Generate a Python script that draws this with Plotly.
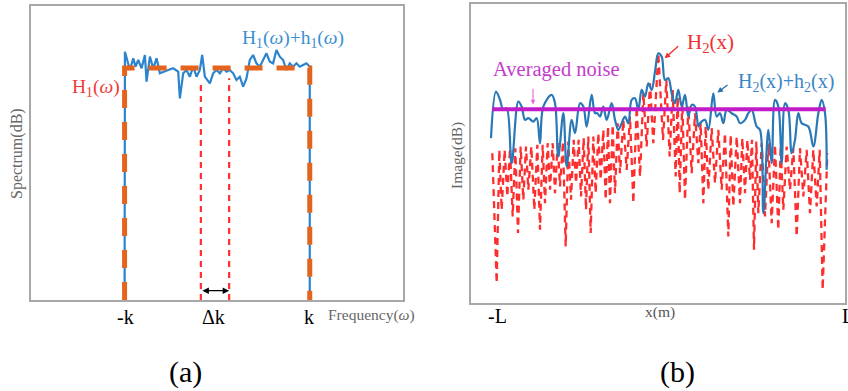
import plotly.graph_objects as go

W, H = 848, 391
SERIF = "Liberation Serif, Times New Roman, serif"

# ---------------- panel (a) data ----------------
k_val = 278
h1_level = 69.6
h1_x = [-k_val, -k_val, k_val, k_val]
h1_db = [0, h1_level, h1_level, 0]

noisy_a_x = [-278, -278, -277, -262, -252, -245, -237, -227, -217, -212, -202, -192, -182, -172,
             -162, -147, -132, -117, -112, -102, -92, -82, -72, -62, -52, -45, -37, -22, -12,
             -2, 8, 18, 28, 38, 48, 58, 68, 78, 88, 98, 108, 118, 128, 138, 148, 158, 168,
             178, 188, 198, 208, 218, 228, 238, 248, 258, 268, 278, 278]
noisy_a_db = [0, 70, 74.5, 69.0, 72.5, 70.0, 72.0, 69.5, 73.5, 65.5, 73.0, 69.5, 72.5, 68.0,
              68.5, 69.0, 69.5, 68.5, 60.5, 68.0, 69.0, 67.0, 70.0, 67.0, 69.0, 73.5, 67.0, 65.0, 68.0,
              69.0, 68.0, 69.5, 68.5, 69.0, 68.0, 66.0, 67.0, 64.0, 66.5, 72.0, 73.5, 71.0, 70.0, 72.0, 74.0, 71.5, 71.0,
              75.0, 73.0, 72.0, 69.0, 71.0, 70.0, 71.0, 70.0, 70.5, 71.0, 70.0, 0]

dk_left, dk_right = -49, 36
dk_top = 65

# ---------------- panel (b) data ----------------
h2_x = [-502, -489, -481, -474, -465, -457, -449, -441, -433, -425, -417, -409, -401, -394, -385,
        -376, -367, -359, -351, -344, -336, -329, -321, -314, -306, -299, -290, -282, -274, -266,
        -258, -251, -243, -236, -228, -221, -214, -207, -199, -192, -184, -177, -169, -162, -155,
        -149, -141, -134, -126, -119, -109, -99, -89, -79, -69, -59, -49, -39, -29, -19, -4, 10,
        20, 30, 39, 48, 54, 60, 68, 76, 86, 96, 106, 116, 123, 131, 138, 146, 156, 166, 176, 186,
        196, 206, 213, 221, 231, 241, 248, 256, 263, 271, 277, 283, 290, 296, 306, 316, 326, 336,
        346, 356, 363, 371, 381, 391, 401, 411, 421, 431, 441, 451, 461, 471, 480, 489, 503]
h2_db = [45, 6, 46, 28, 46, 32, 46.5, 26, 46.5, 21, 47, 31, 47, 34, 47,
         28, 47.5, 22, 47.5, 30, 48, 34, 48, 33, 48, 35, 48.5, 17, 48.5, 31,
         49, 36, 49, 32, 49.5, 28, 50, 21, 50, 33, 51, 37, 52, 31, 53,
         30, 53.5, 33, 54, 39, 55, 40, 56, 30, 59, 38, 63, 47, 66, 48, 75, 49,
         67, 44, 64, 38, 62, 33, 60.5, 31, 59, 39, 57, 42, 54, 30, 53, 34, 52.5, 36, 52, 34,
         51, 20, 50.5, 29, 50, 30, 49.5, 33, 49, 37, 49, 16, 48.5, 27, 48, 26, 48, 24,
         47.5, 22, 47, 28, 47, 34, 46.5, 20, 46.5, 32, 46, 27, 46, 29, 46, 4, 45]

noisy_b_x = [-506, -491, -479, -469, -459, -444, -424, -414, -404, -394, -379, -369, -359, -349,
             -324, -314, -304, -289, -279, -264, -254, -239, -229, -219, -204, -194, -187,
             -179, -169, -159, -144, -134, -124, -114, -104, -94, -84, -74, -64, -54, -44, -34,
             -24, -14, -4, 6, 16, 26, 36, 46, 56, 66, 76, 86, 96, 106, 116,
             121, 136, 146, 161, 171, 181, 191, 201, 216, 231, 241, 256, 266, 276, 291, 301, 311,
             326, 336, 346, 356, 366, 376, 386, 396, 406, 416, 426, 446, 461, 476, 486, 496, 501]
noisy_b_db = [49.5, 63.5, 61, 58, 58.5, 42, 60.5, 59, 55, 55.5, 54.5, 55.5, 48, 59,
              62.5, 60, 44, 57, 41, 55, 51, 60, 59, 53, 62.5, 57, 57,
              56, 59, 55, 60, 55, 52, 54, 56, 54, 61, 61.5, 58, 64, 62, 66,
              64, 69.5, 75, 74, 67, 67.5, 63, 60, 64, 59, 62.5, 56, 59.5, 59, 53,
              54, 55, 52, 63, 56, 57, 54, 58, 57, 56, 54, 55, 57, 58, 53, 52, 27,
              52, 42, 61, 59, 42, 60, 58, 45, 49, 57, 54, 53, 47, 57, 61, 57, 40]

avg_noise_x = [-502, 498]
avg_noise_db = [58.2, 58.2]

# ---------------- figure ----------------
fig = go.Figure()

blue_a = "#2C84CE"
blue_b = "#2A78B6"
orange = "#E4641E"
red = "#FF2E2E"
magenta = "#C21BC8"

# panel (a)
fig.add_trace(go.Scatter(x=[dk_left, dk_left], y=[0, dk_top], mode="lines",
                         line=dict(color=red, width=2.2, dash="6px,5px"), xaxis="x", yaxis="y"))
fig.add_trace(go.Scatter(x=[dk_right, dk_right], y=[0, dk_top + 1.5], mode="lines",
                         line=dict(color=red, width=2.2, dash="6px,5px"), xaxis="x", yaxis="y"))
fig.add_trace(go.Scatter(x=noisy_a_x, y=noisy_a_db, mode="lines",
                         line=dict(color=blue_a, width=2.2), xaxis="x", yaxis="y"))
fig.add_trace(go.Scatter(x=h1_x, y=h1_db, mode="lines",
                         line=dict(color=orange, width=5, dash="18px,14px"), xaxis="x", yaxis="y"))

# panel (b)
fig.add_trace(go.Scatter(x=h2_x, y=h2_db, mode="lines",
                         line=dict(color=red, width=2.3, dash="7px,5px"), xaxis="x2", yaxis="y2"))
fig.add_trace(go.Scatter(x=noisy_b_x, y=noisy_b_db, mode="lines", line_shape="spline",
                         line=dict(color=blue_b, width=2.2), xaxis="x2", yaxis="y2"))
fig.add_trace(go.Scatter(x=avg_noise_x, y=avg_noise_db, mode="lines",
                         line=dict(color=magenta, width=4), xaxis="x2", yaxis="y2"))

axis_common = dict(showline=True, mirror=True, linecolor="#A8A8A8", linewidth=1.5,
                   showgrid=False, zeroline=False, showticklabels=False, ticks="", fixedrange=True)

fig.update_layout(
    width=W, height=H,
    margin=dict(l=0, r=0, t=0, b=0),
    paper_bgcolor="white", plot_bgcolor="white",
    showlegend=False,
    xaxis=dict(domain=[31 / W, 403 / W], range=[-559, 558], **axis_common),
    yaxis=dict(domain=[91 / H, 385 / H], range=[0, 88.2], **axis_common),
    xaxis2=dict(domain=[471 / W, 845 / W], range=[-566, 556], anchor="y2", **axis_common),
    yaxis2=dict(domain=[88 / H, 387 / H], range=[0, 89.8], anchor="x2", **axis_common),
)

def px(xp):
    return xp / W

def py(yp):
    return 1 - yp / H

def label(text, xp, yp, size, color="black", angle=0, xanchor="center"):
    fig.add_annotation(text=text, x=px(xp), y=py(yp), xref="paper", yref="paper",
                       showarrow=False, font=dict(family=SERIF, size=size, color=color),
                       textangle=angle, xanchor=xanchor, yanchor="middle")

# panel (a) texts
label("-k", 125, 317, 20)
label("Δk", 213, 317, 20)
label("k", 309, 317, 20)
label("Frequency(<i>ω</i>)", 371, 315, 15.5, "#666666")
label("Spectrum(dB)", 17, 154, 16, "#666666", angle=-90)
label("H<sub>1</sub>(<i>ω</i>)", 96, 88, 19.5, "#F03A3A")
label("H<sub>1</sub>(<i>ω</i>)+h<sub>1</sub>(<i>ω</i>)", 293, 39, 19.5, "#3A8FD2")
label("(a)", 185, 372, 30)

# double-headed arrow for Δk
fig.add_annotation(x=dk_right, y=2.8, ax=dk_left, ay=2.8, xref="x", yref="y", axref="x", ayref="y",
                   showarrow=True, arrowhead=2, arrowside="end+start", arrowsize=1, arrowwidth=1.3,
                   arrowcolor="black", text="")

# panel (b) texts
label("-L", 497, 316, 20)
label("x(m)", 660, 312, 15.5, "#555555")
label("L", 840, 316, 20, xanchor="left")
label("Image(dB)", 457, 155, 15.5, "#666666", angle=-90)
label("(b)", 677, 372, 30)
label("Averaged noise", 556, 69, 20.5, "#C43CCB")
label("H<sub>2</sub>(x)", 710, 43, 21, "#F03030")
label("H<sub>2</sub>(x)+h<sub>2</sub>(x)", 786, 82, 20, "#3A86C4")

fig.add_annotation(x=-380, y=59.6, ax=-380, ay=64.8, xref="x2", yref="y2", axref="x2", ayref="y2",
                   showarrow=True, arrowhead=2, arrowsize=0.8, arrowwidth=1.2, arrowcolor="#E070E0", text="")
fig.add_annotation(x=15, y=73.5, ax=60, ay=77.5, xref="x2", yref="y2", axref="x2", ayref="y2",
                   showarrow=True, arrowhead=2, arrowsize=0.8, arrowwidth=1.4, arrowcolor="#F03030", text="")
fig.add_annotation(x=173, y=63.2, ax=208, ay=65.8, xref="x2", yref="y2", axref="x2", ayref="y2",
                   showarrow=True, arrowhead=2, arrowsize=0.8, arrowwidth=1.4, arrowcolor="#2A6FA8", text="")

fig.write_html("out.html")
